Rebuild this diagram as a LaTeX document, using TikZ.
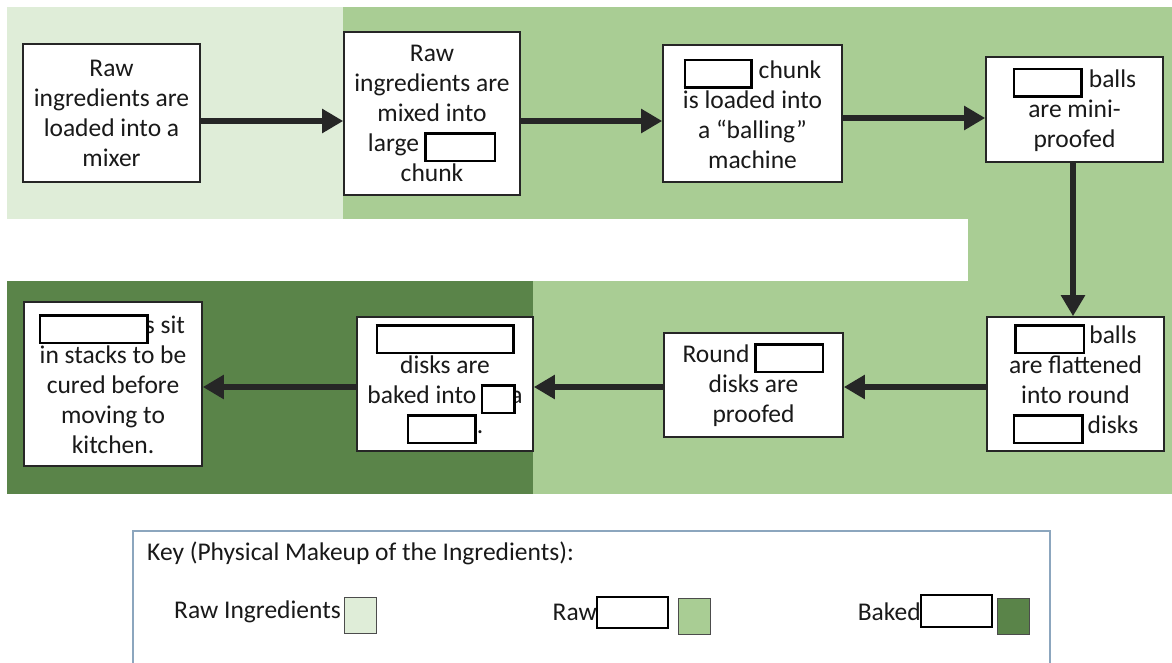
\documentclass[tikz,border=0pt]{standalone}
\usepackage{fontspec}
\setmainfont{Carlito}
\usetikzlibrary{arrows.meta,calc}
\definecolor{lightg}{HTML}{DFEDD8}
\definecolor{midg}{HTML}{A9CD94}
\definecolor{darkg}{HTML}{5A8449}
\definecolor{arrowc}{HTML}{262626}
\definecolor{keyb}{HTML}{8CA6BE}
\newcommand\blankbox[1]{\raisebox{-8pt}{\setlength\fboxsep{0pt}\setlength\fboxrule{2.5pt}\fcolorbox{black}{white}{\rule{0pt}{25pt}\hspace{#1pt}}}}
\tikzset{
  stepbox/.style={draw=black!85, line width=1.6pt, fill=white, align=center,
    font=\fontsize{25.5}{30}\selectfont, inner sep=0pt, text=black!90},
  flow/.style={draw=arrowc, line width=5.5pt, -{Triangle[length=21pt,width=23pt]}},
  keytext/.style={font=\fontsize{25.5}{30}\selectfont, inner sep=0pt, text=black!90},
  swatch/.style={draw=black!70, line width=1pt, minimum width=32pt, minimum height=36pt, inner sep=0pt},
  blankn/.style={draw=black, line width=2.5pt, fill=white, inner sep=0pt},
}
\begin{document}
\begin{tikzpicture}[x=1pt,y=-1pt]
\useasboundingbox (0,0) rectangle (1172,662);
% background bands
\fill[lightg] (7,7) rectangle (343,219);
\fill[midg] (343,7) rectangle (1172,219);
\fill[midg] (968,218) rectangle (1172,282);
\fill[midg] (533,281) rectangle (1172,494);
\fill[darkg] (7,281) rectangle (533,494);
% process boxes
\node[stepbox, minimum width=177pt, minimum height=138pt] (A) at (111.5,113)
  {Raw\\ingredients are\\loaded into a\\mixer};
\node[stepbox, minimum width=176pt, minimum height=163pt] (B) at (432,113.5)
  {Raw\\ingredients are\\mixed into\\large\hspace{5pt}\blankbox{67}\\chunk};
\node[stepbox, minimum width=179pt, minimum height=137pt] (C) at (752.5,113.5)
  {\blankbox{64}\hspace{6pt}chunk\\is loaded into\\a “balling”\\machine};
\node[stepbox, minimum width=177pt, minimum height=105pt] (D) at (1074.5,109.5)
  {\blankbox{65}\hspace{6pt}balls\\are mini-\\proofed};
\node[stepbox, minimum width=177pt, minimum height=134pt] (E) at (1075.5,384)
  {\blankbox{66}\hspace{4pt}balls\\are flattened\\into round\\\blankbox{66}\hspace{4pt}disks};
\node[stepbox, minimum width=179pt, minimum height=104pt] (F) at (753.5,385)
  {Round\hspace{5pt}\blankbox{65}\\disks are\\proofed};
\node[stepbox, minimum width=176pt, minimum height=134pt] (G) at (445,384)
  {\blankbox{134}\\disks are\\baked into\hspace{34pt}a\llap{\blankbox{30}\hspace{7pt}}\\\blankbox{65}.};
\node[stepbox, minimum width=178pt, minimum height=164pt] (H) at (113,384)
  {\hspace{104pt}s\llap{\blankbox{105}\hspace{6pt}} sit\\in stacks to be\\cured before\\moving to\\kitchen.};
% connectors
\draw[flow] ($(A.east)+(0,8)$) -- ($(A.east -| B.west)+(0,8)$);
\draw[flow] ($(B.east)+(0,7.5)$) -- ($(B.east -| C.west)+(0,7.5)$);
\draw[flow] ($(C.east)+(0,4.5)$) -- ($(C.east -| D.west)+(0,4.5)$);
\draw[flow] ($(D.south)+(-1.5,0)$) -- ($(D.south |- E.north)+(-1.5,0)$);
\draw[flow] ($(E.west)+(0,3)$) -- ($(E.west -| F.east)+(0,3)$);
\draw[flow] ($(F.west)+(0,2)$) -- ($(F.west -| G.east)+(0,2)$);
\draw[flow] ($(G.west)+(0,3)$) -- ($(G.west -| H.east)+(0,3)$);
% key
\draw[keyb, line width=1.5pt] (133,672) -- (133,531) -- (1050,531) -- (1050,672);
\node[keytext, anchor=west] (keytitle) at (147,553) {Key (Physical Makeup of the Ingredients):};
\node[keytext, anchor=east] (rawing) at (341,612) {Raw Ingredients};
\node[swatch, fill=lightg] (sw1) at (360,615.5) {};
\node[keytext, anchor=east] (rawlbl) at (597,612) {Raw};
\node[blankn, minimum width=71pt, minimum height=31pt] (bk1) at (632.5,612.5) {};
\node[swatch, fill=midg] (sw2) at (694,616) {};
\node[keytext, anchor=east] (bakedlbl) at (921,612) {Baked};
\node[blankn, minimum width=71pt, minimum height=32pt] (bk2) at (956.5,611) {};
\node[swatch, fill=darkg] (sw3) at (1013.5,616) {};
\end{tikzpicture}
\end{document}
